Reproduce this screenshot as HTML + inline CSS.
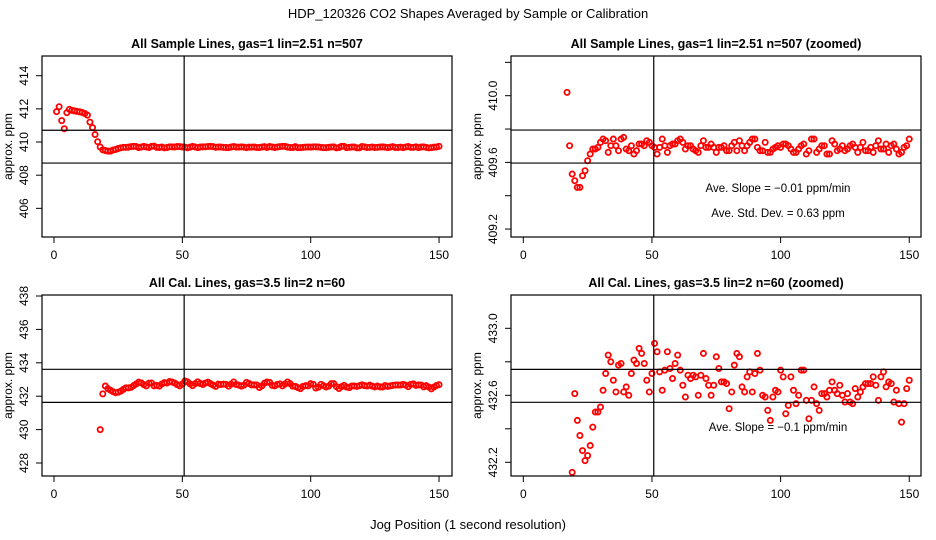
<!DOCTYPE html>
<html><head><meta charset="utf-8"><style>
html,body{margin:0;padding:0;background:#fff;overflow:hidden;width:936px;height:540px;}
svg{display:block;font-family:"Liberation Sans",sans-serif;}
</style></head><body>
<svg id="chart" width="936" height="540" viewBox="0 0 936 540">
<rect width="936" height="540" fill="#fff"/>
<text x="468" y="18" text-anchor="middle" font-size="13">HDP_120326  CO2 Shapes Averaged by Sample or Calibration</text>
<text x="468" y="529" text-anchor="middle" font-size="13">Jog Position (1 second resolution)</text>
</svg>
<script>
const sampleX = [1,2,3,4,5,6,7,8,9,10,11,12,13,14,15,16,17,18,19,20,21,22,23,24,25,26,27,28,29,30,31,32,33,34,35,36,37,38,39,40,41,42,43,44,45,46,47,48,49,50,51,52,53,54,55,56,57,58,59,60,61,62,63,64,65,66,67,68,69,70,71,72,73,74,75,76,77,78,79,80,81,82,83,84,85,86,87,88,89,90,91,92,93,94,95,96,97,98,99,100,101,102,103,104,105,106,107,108,109,110,111,112,113,114,115,116,117,118,119,120,121,122,123,124,125,126,127,128,129,130,131,132,133,134,135,136,137,138,139,140,141,142,143,144,145,146,147,148,149,150];
const sampleY = [411.83,412.13,411.29,410.80,411.77,411.97,411.91,411.88,411.85,411.82,411.78,411.72,411.62,411.20,410.87,410.45,410.02,409.70,409.53,409.49,409.45,409.45,409.52,409.55,409.61,409.65,409.68,409.68,409.69,409.72,409.74,409.73,409.66,409.70,409.74,409.70,409.67,409.74,409.75,409.68,409.67,409.70,409.65,409.67,409.71,409.71,409.70,409.73,409.72,409.70,409.69,409.65,409.69,409.74,409.70,409.66,409.70,409.71,409.71,409.73,409.74,409.72,409.68,409.70,409.70,409.68,409.67,409.66,409.70,409.73,409.69,409.69,409.71,409.69,409.66,409.69,409.69,409.70,409.67,409.67,409.70,409.72,409.67,409.73,409.70,409.67,409.70,409.72,409.74,409.74,409.69,409.67,409.67,409.72,409.66,409.66,409.68,409.69,409.70,409.69,409.71,409.71,409.70,409.68,409.66,409.66,409.68,409.70,409.71,409.65,409.67,409.74,409.74,409.66,409.68,409.70,409.70,409.65,409.65,409.73,409.71,409.67,409.68,409.70,409.67,409.68,409.70,409.71,409.69,409.66,409.69,409.72,409.67,409.67,409.69,409.66,409.70,409.73,409.68,409.68,409.71,409.66,409.70,409.71,409.68,409.65,409.66,409.69,409.70,409.74];
const calX = [18,19,20,21,22,23,24,25,26,27,28,29,30,31,32,33,34,35,36,37,38,39,40,41,42,43,44,45,46,47,48,49,50,51,52,53,54,55,56,57,58,59,60,61,62,63,64,65,66,67,68,69,70,71,72,73,74,75,76,77,78,79,80,81,82,83,84,85,86,87,88,89,90,91,92,93,94,95,96,97,98,99,100,101,102,103,104,105,106,107,108,109,110,111,112,113,114,115,116,117,118,119,120,121,122,123,124,125,126,127,128,129,130,131,132,133,134,135,136,137,138,139,140,141,142,143,144,145,146,147,148,149,150];
const calY = [430.0,432.14,432.61,432.45,432.36,432.27,432.21,432.24,432.30,432.41,432.50,432.50,432.53,432.63,432.73,432.84,432.80,432.69,432.62,432.78,432.79,432.62,432.65,432.60,432.73,432.81,432.79,432.88,432.85,432.79,432.69,432.62,432.73,432.91,432.86,432.74,432.63,432.75,432.86,432.76,432.70,432.79,432.84,432.75,432.66,432.59,432.72,432.70,432.72,432.71,432.60,432.72,432.85,432.70,432.66,432.60,432.66,432.83,432.76,432.68,432.68,432.67,432.52,432.62,432.78,432.85,432.83,432.65,432.62,432.71,432.74,432.62,432.73,432.85,432.75,432.60,432.59,432.51,432.45,432.59,432.63,432.62,432.75,432.71,432.49,432.54,432.71,432.63,432.55,432.60,432.75,432.75,432.57,432.46,432.57,432.65,432.55,432.51,432.61,432.61,432.59,432.63,432.68,432.63,432.61,432.66,432.60,432.56,432.61,432.56,432.55,432.64,432.59,432.62,432.65,432.67,432.67,432.67,432.71,432.66,432.57,432.71,432.74,432.65,432.68,432.67,432.56,432.63,432.55,432.44,432.55,432.64,432.69];
const xTicks = [0,50,100,150];
const tlYTicks = [406,408,410,412,414];
const trYTicks = [409.2,409.4,409.6,409.8,410.0,410.2];
const blYTicks = [428,430,432,434,436,438];
const brYTicks = [432.2,432.4,432.6,432.8,433.0];
const trYLabels = ["409.2","","409.6","","410.0",""];
const brYLabels = ["432.2","","432.6","","433.0"];
const tlHLines = [410.71,408.73];
const trHLines = [409.794,409.596];
const blHLines = [433.61,431.63];
const brHLines = [432.755,432.558];
const vLine = 50.7;
const trNotes = ["Ave. Slope =  \u22120.01  ppm/min","Ave. Std. Dev. =  0.63  ppm"];
const brNotes = ["Ave. Slope =  \u22120.1  ppm/min"];

const NS="http://www.w3.org/2000/svg";
const svg=document.getElementById('chart');
function mk(tag,attrs,parent){const e=document.createElementNS(NS,tag);for(const k in attrs)e.setAttribute(k,attrs[k]);(parent||svg).appendChild(e);return e;}

function panel(cfg){
  const g=mk('g',{});
  
  
  const {bx0,by0,bx1,by1,x0,xs,vRef,yRef,ys}=cfg;
  const X=v=>x0+xs*v;
  const Y=v=>yRef-(v-vRef)*ys;
  const t=mk('text',{x:(bx0+bx1)/2,y:by0-8,'text-anchor':'middle','font-size':12.5,'font-weight':'bold'},g);
  t.textContent=cfg.title;
  
  
  const cid='c'+cfg.name;
  const cp=mk('clipPath',{id:cid},g);
  mk('rect',{x:bx0,y:by0,width:bx1-bx0,height:by1-by0},cp);
  const pg=mk('g',{'clip-path':'url(#'+cid+')'},g);
  
  
  for(let i=0;i<cfg.xs_.length;i++){
    const c=mk('circle',{cx:X(cfg.xs_[i]),cy:Y(cfg.ys_[i]),r:2.6,fill:'none',stroke:'#f00','stroke-width':1.8},pg);
    
    
  }
  for(const h of cfg.hl){
    const l=mk('line',{x1:bx0,x2:bx1,y1:Y(h),y2:Y(h),stroke:'#000','stroke-width':1.2},g);
    
    
  }
  const vl=mk('line',{x1:X(vLine),x2:X(vLine),y1:by0,y2:by1,stroke:'#000','stroke-width':1.2},g);
  
  
  const box=mk('rect',{x:bx0,y:by0,width:bx1-bx0,height:by1-by0,fill:'none',stroke:'#000','stroke-width':1.2},g);
  
  
  for(const v of xTicks){
    mk('line',{x1:X(v),x2:X(v),y1:by1,y2:by1+6,stroke:'#000'},g);
    const tx=mk('text',{x:X(v),y:by1+22,'text-anchor':'middle','font-size':12},g);
    tx.textContent=v;
    
    
  }
  cfg.yt.forEach((v,i)=>{
    const y=Y(v);
    mk('line',{x1:bx0-6,x2:bx0,y1:y,y2:y,stroke:'#000'},g);
    const lab=cfg.yl?cfg.yl[i]:String(v);
    if(lab){
      const ty=mk('text',{x:bx0-14,y:y,'text-anchor':'middle','font-size':12,transform:'rotate(-90 '+(bx0-14)+' '+y+')'},g);
      ty.textContent=lab;
      
      
    }
  });
  const yc=(by0+by1)/2;
  const yt=mk('text',{x:bx0-30,y:yc,'text-anchor':'middle','font-size':12,transform:'rotate(-90 '+(bx0-30)+' '+yc+')'},g);
  yt.textContent='approx. ppm';
  
  
  (cfg.notes||[]).forEach((n,i)=>{
    const nt=mk('text',{x:778,y:cfg.noteY[i],'text-anchor':'middle','font-size':11.5},g);
    nt.textContent=n;
    
    
  });
}
panel({name:'sample-panel',title:'All Sample Lines, gas=1 lin=2.51 n=507',bx0:42,by0:56,bx1:452,by1:237,x0:54,xs:2.567,vRef:414,yRef:75.7,ys:16.58,xs_:sampleX,ys_:sampleY,hl:tlHLines,yt:tlYTicks});
panel({name:'sample-zoomed-panel',title:'All Sample Lines, gas=1 lin=2.51 n=507 (zoomed)',bx0:511,by0:56,bx1:921,by1:237,x0:523.3,xs:2.573,vRef:410,yRef:95.7,ys:166.7,xs_:sampleX,ys_:sampleY,hl:trHLines,yt:trYTicks,yl:trYLabels,notes:trNotes,noteY:[192,217]});
panel({name:'cal-panel',title:'All Cal. Lines, gas=3.5 lin=2 n=60',bx0:42,by0:295,bx1:452,by1:476,x0:54,xs:2.567,vRef:428,yRef:463,ys:16.7,xs_:calX,ys_:calY,hl:blHLines,yt:blYTicks});
panel({name:'cal-zoomed-panel',title:'All Cal. Lines, gas=3.5 lin=2 n=60 (zoomed)',bx0:511,by0:295,bx1:921,by1:476,x0:523.3,xs:2.573,vRef:433,yRef:328.3,ys:167.5,xs_:calX,ys_:calY,hl:brHLines,yt:brYTicks,yl:brYLabels,notes:brNotes,noteY:[431]});
</script>
</body></html>
